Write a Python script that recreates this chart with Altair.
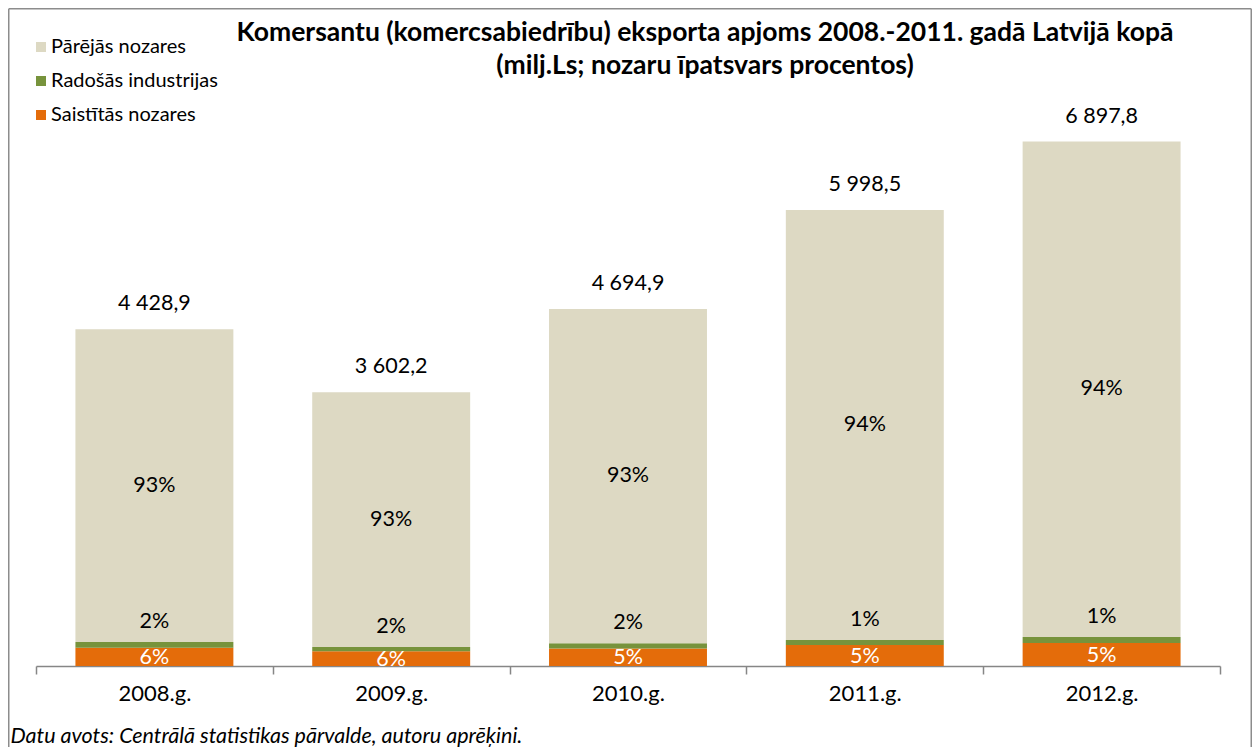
import altair as alt
import pandas as pd

years = ["2008.g.", "2009.g.", "2010.g.", "2011.g.", "2012.g."]
totals = [4428.9, 3602.2, 4694.9, 5998.5, 6897.8]
saist_vals = [240, 195, 230, 276, 302]
rad_vals = [75, 55, 70, 66, 79]
other_pct = ["93%", "93%", "93%", "94%", "94%"]
rad_pct = ["2%", "2%", "2%", "1%", "1%"]
saist_pct = ["6%", "6%", "5%", "5%", "5%"]
series = ["Pārējās nozares", "Radošās industrijas", "Saistītās nozares"]
colors = ["#DDD9C3", "#77933C", "#E46C0A"]

rows = []
for i, yr in enumerate(years):
    s0, s1 = 0, saist_vals[i]
    r1 = s1 + rad_vals[i]
    t = totals[i]
    tot_lbl = f"{t:,.1f}".replace(",", " ").replace(".", ",")
    rows.append(dict(year=yr, series=series[2], start=s0, end=s1, mid=(s0 + s1) / 2, label=saist_pct[i], tot=""))
    rows.append(dict(year=yr, series=series[1], start=s1, end=r1, mid=(s1 + r1) / 2, label=rad_pct[i], tot=""))
    rows.append(dict(year=yr, series=series[0], start=r1, end=t, mid=(r1 + t) / 2, label=other_pct[i], tot=tot_lbl))
df = pd.DataFrame(rows)

FONT = "Lato"
W, H = 1184, 528
YMAX = 6945

xenc = alt.X(
    "year:N",
    sort=years,
    scale=alt.Scale(paddingInner=0, paddingOuter=0),
    axis=alt.Axis(
        title="Datu avots: Centrālā statistikas pārvalde, autoru aprēķini.",
        titleFont=FONT, titleFontStyle="italic", titleFontWeight="normal",
        titleFontSize=21.5, titleColor="#000000",
        titleAnchor="start", titleAlign="left", titleBaseline="alphabetic",
        titleX=-26, titleY=76,
        labelAngle=0, labelFont=FONT, labelFontSize=22, labelColor="#000000",
        labelPadding=9, tickBand="extent", tickSize=8, grid=False,
        domainColor="#868686", tickColor="#868686", domainWidth=1.5, tickWidth=1.5,
    ),
)
yscale = alt.Scale(domain=[0, YMAX], nice=False, zero=True)

base = alt.Chart(df)

bars = base.mark_bar(width=alt.RelativeBandSize(0.667)).encode(
    x=xenc,
    y=alt.Y("start:Q", scale=yscale, axis=None),
    y2="end:Q",
    color=alt.Color(
        "series:N",
        scale=alt.Scale(domain=series, range=colors),
        legend=alt.Legend(
            orient="none", legendX=-5, legendY=-101, title=None,
            symbolType="square", symbolSize=100, symbolStrokeWidth=0,
            labelFont=FONT, labelFontSize=20, labelColor="#000000",
            rowPadding=14, labelOffset=0, labelLimit=400,
        ),
    ),
)

txt_kw = dict(font=FONT, fontSize=21.5, baseline="middle", align="center")
xt = alt.X("year:N", sort=years)

other_lbl = base.transform_filter(alt.datum.series == series[0]).mark_text(color="#000000", **txt_kw).encode(
    x=xt, y=alt.Y("mid:Q", scale=yscale, axis=None), text="label:N")
rad_lbl = base.transform_filter(alt.datum.series == series[1]).mark_text(color="#000000", dy=-20, **txt_kw).encode(
    x=xt, y=alt.Y("end:Q", scale=yscale, axis=None), text="label:N")
saist_lbl = base.transform_filter(alt.datum.series == series[2]).mark_text(color="#FFFFFF", dy=1, **txt_kw).encode(
    x=xt, y=alt.Y("mid:Q", scale=yscale, axis=None), text="label:N")
tot_lbl = base.transform_filter(alt.datum.series == series[0]).mark_text(color="#000000", dy=-25, **txt_kw).encode(
    x=xt, y=alt.Y("end:Q", scale=yscale, axis=None), text="tot:N")

one = pd.DataFrame({"a": [0]})
rule_kw = dict(color="#8C8C8C", strokeWidth=1.5)
border_top = alt.Chart(one).mark_rule(**rule_kw).encode(
    x=alt.value(-27.25), x2=alt.value(1215.25), y=alt.value(-129.25))
border_left = alt.Chart(one).mark_rule(**rule_kw).encode(
    x=alt.value(-27.25), y=alt.value(-129.25), y2=alt.value(700))
border_right = alt.Chart(one).mark_rule(**rule_kw).encode(
    x=alt.value(1215.25), y=alt.value(-129.25), y2=alt.value(700))

chart = alt.layer(border_top, border_left, border_right, bars, other_lbl, rad_lbl, saist_lbl, tot_lbl).properties(
    width=W, height=H,
    padding={"left": 28, "top": 130, "right": 32, "bottom": 81},
    autosize=alt.AutoSizeParams(type="none"),
    background="#FFFFFF",
    title=alt.Title(
        ["Komersantu (komercsabiedrību) eksporta apjoms 2008.-2011. gadā Latvijā kopā",
         "(milj.Ls; nozaru īpatsvars procentos)"],
        font=FONT, fontSize=26.5, fontWeight="bold", color="#000000",
        anchor="middle", dx=77, offset=-71, lineHeight=33,
    ),
).configure(
    view=alt.ViewConfig(stroke="#FFFFFF", strokeWidth=0, strokeOpacity=0),
    style={"cell": {"stroke": "transparent", "strokeWidth": 0}},
)

chart.save("out.html", embed_options={"renderer": "svg", "actions": False})
